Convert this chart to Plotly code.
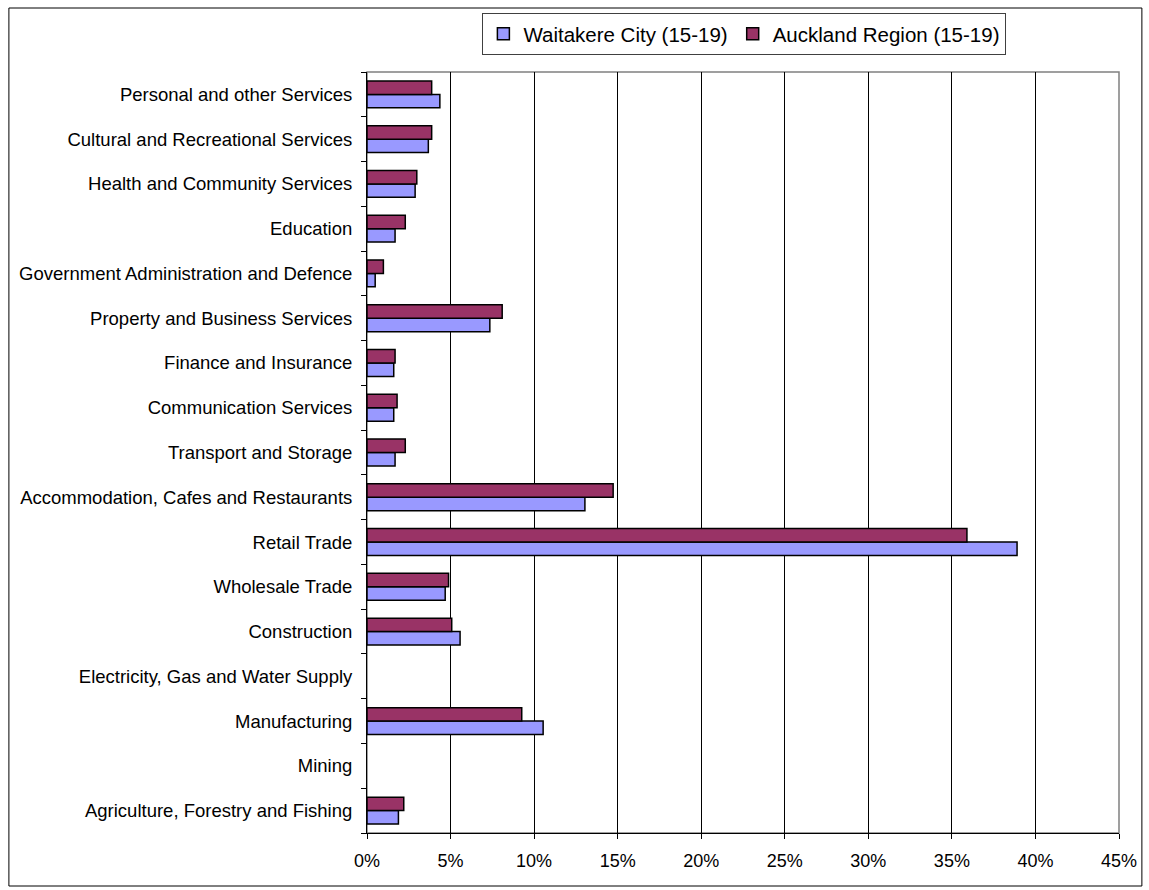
import plotly.graph_objects as go

categories = [
    "Agriculture, Forestry and Fishing",
    "Mining",
    "Manufacturing",
    "Electricity, Gas and Water Supply",
    "Construction",
    "Wholesale Trade",
    "Retail Trade",
    "Accommodation, Cafes and Restaurants",
    "Transport and Storage",
    "Communication Services",
    "Finance and Insurance",
    "Property and Business Services",
    "Government Administration and Defence",
    "Education",
    "Health and Community Services",
    "Cultural and Recreational Services",
    "Personal and other Services",
]
waitakere = [1.88, 0.0, 10.54, 0.0, 5.57, 4.68, 38.9, 13.04, 1.68, 1.6, 1.6, 7.35, 0.49, 1.68, 2.88, 3.67, 4.36]
auckland = [2.2, 0.0, 9.26, 0.0, 5.07, 4.88, 35.9, 14.73, 2.29, 1.8, 1.68, 8.09, 0.98, 2.29, 2.98, 3.87, 3.87]
series_names = ["Waitakere City (15-19)", "Auckland Region (15-19)"]
x_ticks = [0, 5, 10, 15, 20, 25, 30, 35, 40, 45]
x_tick_labels = [f"{v}%" for v in x_ticks]

W, H = 1149, 890
L, R, T, B = 367, 1123, 72, 833
pw, ph = R - L, B - T

FONT = "Arial, Liberation Sans, sans-serif"


def nonzero(vals):
    # zero-length bars are not drawn in the reference
    return [v if v > 0 else None for v in vals]


fig = go.Figure()
fig.add_trace(go.Bar(
    y=categories, x=nonzero(waitakere), orientation="h", name=series_names[0],
    marker=dict(color="#9999FF", line=dict(color="#000000", width=1.5)),
))
fig.add_trace(go.Bar(
    y=categories, x=nonzero(auckland), orientation="h", name=series_names[1],
    marker=dict(color="#993366", line=dict(color="#000000", width=1.5)),
))


def px_x(px):
    return (px - L) / pw


def px_y(py):
    return (B - py) / ph


# outer chart border
fig.add_shape(type="rect", xref="paper", yref="paper",
              x0=px_x(7), x1=px_x(1146), y0=px_y(886), y1=px_y(8),
              line=dict(color="#000000", width=1), layer="below")
# plot area border (gray)
fig.add_shape(type="rect", xref="paper", yref="paper",
              x0=0, x1=1, y0=0, y1=1,
              line=dict(color="#808080", width=1.5), layer="below")

fig.update_layout(
    width=W, height=H, autosize=False,
    margin=dict(l=L, r=W - R, t=T, b=H - B, pad=0),
    paper_bgcolor="#FFFFFF", plot_bgcolor="#FFFFFF",
    barmode="group", bargap=0.4, bargroupgap=0.0,
    font=dict(family=FONT, size=18, color="#000000"),
    showlegend=True,
    legend=dict(
        orientation="h", x=px_x(483), y=px_y(13), xanchor="left", yanchor="top",
        bgcolor="#FFFFFF", bordercolor="#404040", borderwidth=1,
        font=dict(family=FONT, size=20.5, color="#000000"),
        traceorder="normal", itemwidth=30,
    ),
    xaxis=dict(
        range=[0, 45], tickvals=x_ticks, ticktext=x_tick_labels,
        showgrid=True, gridcolor="#000000", gridwidth=1,
        showline=True, linecolor="#000000", linewidth=1,
        ticks="outside", ticklen=5, tickcolor="#000000",
        zeroline=False, fixedrange=True,
        tickfont=dict(size=18), ticklabelstandoff=6,
    ),
    yaxis=dict(
        type="category", categoryorder="array", categoryarray=categories,
        showgrid=False, showline=True, linecolor="#000000", linewidth=1,
        ticks="outside", ticklen=5, tickcolor="#000000", tickson="boundaries",
        tickfont=dict(size=18.5), ticklabelstandoff=10, fixedrange=True,
    ),
)

fig.write_html("out.html", config={"displayModeBar": False},
               post_script="document.body.style.margin='0';document.body.style.overflow='hidden';")
